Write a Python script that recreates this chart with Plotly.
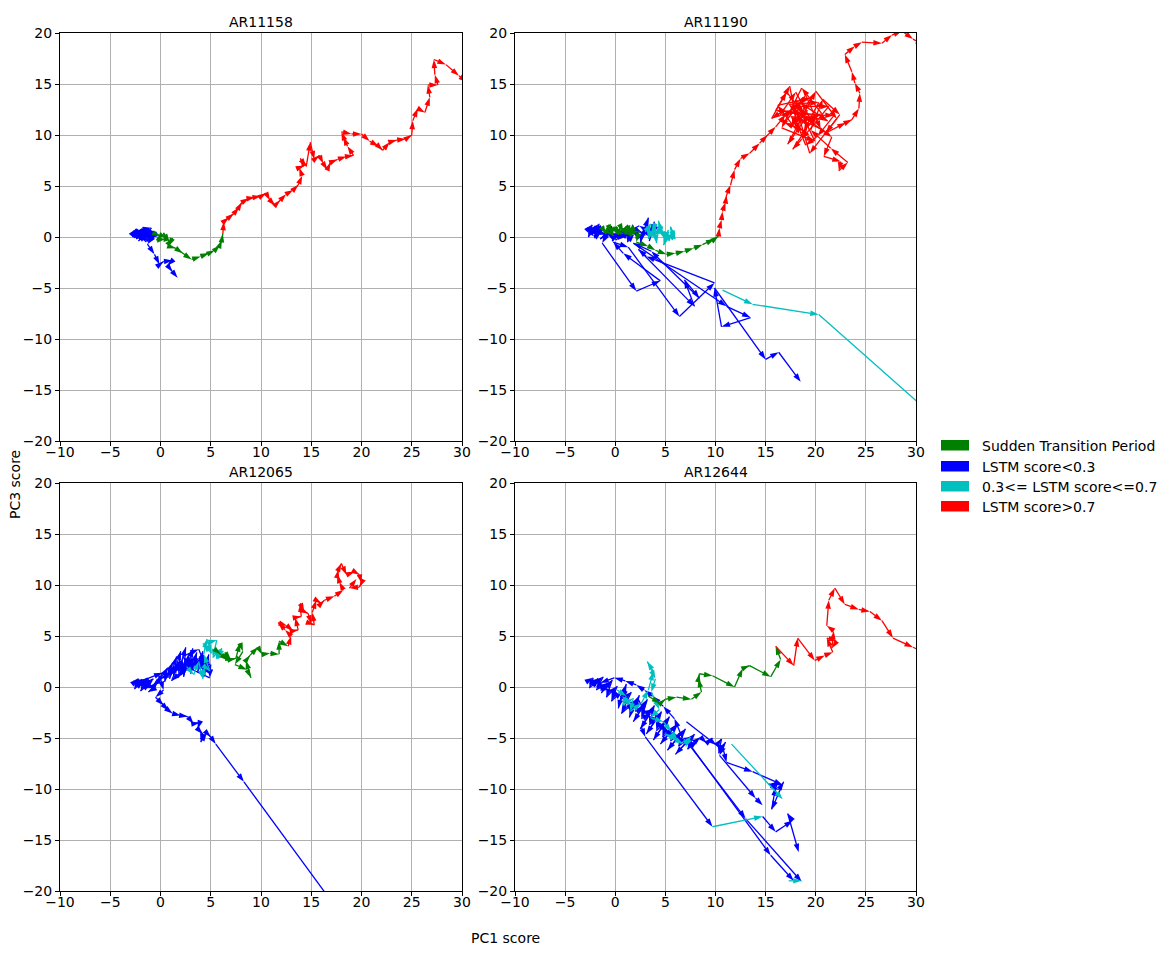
import plotly.graph_objects as go

# panel titles, ticks, legend
titles = ["AR11158", "AR11190", "AR12065", "AR12644"]
x_ticks = [-10, -5, 0, 5, 10, 15, 20, 25, 30]
y_ticks = [-20, -15, -10, -5, 0, 5, 10, 15, 20]
legend_labels = ["Sudden Transition Period", "LSTM score<0.3",
                 "0.3<= LSTM score<=0.7", "LSTM score>0.7"]
legend_colors = ["#008000", "#0000ff", "#00bfbf", "#ff0000"]

# ── AR11158 ──────────────────────────────────
p1_blue_x = [-2.6, -2.1, -2.8, -1.8, -2.4, -1.5, -2.2, -1.2, -2.7, -1.7, -1.0, -2.3, -0.8, -1.6,
             -2.9, -2.4, -2.0, -2.7, -1.6, -2.2, -1.1, -2.6, -1.8, -0.7, -1.4, -2.3, -0.4, -1.0,
             -2.0, -0.9, -1.5, -0.3, -2.8, -1.2,
             -2.5, -1.3, -0.6, -1.3, -0.6, -0.1, 0.3, 1.2, 0.7, 1.2, 1.7, None,
             -1.9, -1.1, -2.0, -1.4, -0.9, -1.7, -0.5]
p1_blue_y = [0.3, 0.6, 0.0, 0.5, -0.2, 0.7, 0.2, 0.4, 0.5, -0.1, 0.6, 0.1, 0.3, 0.8,
             0.2, 0.8, -0.3, 0.6, 0.2, -0.4, 0.8, -0.1, 0.9, 0.1, -0.5, 0.3, 0.5, -0.2,
             0.7, 0.9, 0.0, 0.1, 0.5, -0.4,
             0.4, -0.3, 0.2, -0.7, -1.7, -2.7, -2.4, -2.3, -2.8, -3.4, -4.0, None,
             0.1, 0.5, -0.2, 0.6, 0.0, 0.4, 0.3]
p1_green_x = [-0.5, 0.0, -0.4, 0.5, 0.3, 0.9, 1.2, 0.8, 1.5, 2.2, 3.1, 4.0, 4.8, 5.4, 5.9, 6.1, 6.2]
p1_green_y = [0.3, 0.1, -0.3, -0.2, 0.4, -0.5, -0.1, -0.9, -1.1, -1.6, -2.2, -1.9, -1.6, -1.3, -0.8, -0.3, 0.3]
p1_red_x = [6.2, 6.3, 6.8, 7.3, 7.8, 8.1, 8.8, 9.4, 10.0, 10.5, 10.9, 11.4, 11.9, 12.5, 13.2, 13.7,
            14.1, 13.8, 14.3, 13.9, 14.5, 14.9, 15.3, 15.8, 16.2, 16.6, 16.9, 17.6, 18.5, 19.2,
            18.6, 18.2, 18.0, 19.0, 20.0, 20.8, 21.7, 22.1, 22.8, 23.5, 24.4, 25.0, 25.1, 25.6,
            26.3, 26.8, 26.6, 27.6, 27.3, 27.2, 28.4, 29.7, 30.5]
p1_red_y = [0.3, 1.5, 1.9, 2.3, 2.9, 3.4, 3.8, 3.9, 4.0, 4.3, 3.6, 3.1, 3.6, 4.2, 4.6, 5.1,
            6.0, 6.8, 7.0, 7.7, 6.9, 9.3, 7.6, 8.0, 7.2, 6.6, 7.3, 7.6, 7.9, 8.0,
            8.9, 9.8, 10.3, 10.1, 10.1, 9.4, 8.9, 8.5, 9.3, 9.5, 9.6, 10.0, 11.4, 12.6,
            12.2, 13.7, 14.9, 14.9, 15.9, 17.4, 16.9, 15.8, 15.2]

# ── AR11190 ──────────────────────────────────
p2_blue_x = [-2.9, -2.3, -2.7, -1.9, -2.5, -1.6, -2.1, -1.4, -2.8, -1.8, -1.1, -2.2, -0.9, -1.5,
             -0.4, -1.0, 0.1, -0.3, 0.6, 0.3, 1.0, 0.8, 1.4, 1.2, 1.9, 1.7, 2.3, 2.1, 2.7, 2.5,
             3.0, 3.3, 3.1, 3.6, 3.4, 3.9, 3.7, 4.2, 3.2, 2.4, 1.1, 0.2, -0.8,
             -1.3, 2.1, 4.5, 0.8, -0.2, 1.3, 6.4, 9.9, 3.1, 2.3, 7.9, 6.9, 8.4, 3.6, 1.8,
             11.1, 13.5, 10.6, 9.9, 15.0, 16.3, 18.5]
p2_blue_y = [0.6, 1.2, 0.0, 0.9, 0.4, 1.3, -0.1, 0.5, 0.9, 0.2, 1.0, 0.7, 0.2, -0.2,
             0.8, 0.5, 0.2, -0.4, 0.6, -0.2, 0.9, 0.0, 0.6, -0.5, 0.3, 1.2, -0.2, 0.7, 0.4, -0.6,
             1.0, 1.9, 0.2, 0.9, -0.4, 1.5, 0.4, 1.0, 0.6, 1.1, 0.4, -0.3, 0.3,
             -0.6, -5.3, -4.3, -1.6, -0.5, -1.0, -7.8, -4.5, -1.9, -1.2, -6.8, -4.2, -6.0, -1.4, -0.6,
             -6.8, -7.9, -8.8, -5.0, -12.0, -11.3, -14.2]
p2_green_x = [-1.3, -0.9, -0.7, -0.4, -0.1, 0.3, 0.5, 0.8, 1.2, 1.5, 1.8, 1.2, 0.4, -0.6, 0.9,
              2.4, 2.1, 3.3, 4.0, 5.1, 6.0, 6.9, 7.8, 8.7, 9.9, 10.3]
p2_green_y = [0.9, 0.3, 1.2, 0.4, 1.0, 0.2, 1.1, 0.5, 1.2, 0.3, 0.9, 0.5, 0.7, 0.8, 0.3,
              0.6, -0.5, -0.9, -1.3, -1.7, -1.6, -1.4, -1.1, -0.75, -0.2, 0.1]
p2_cyan_x = [3.0, 3.5, 3.3, 3.9, 4.1, 4.4, 4.7, 4.3, 5.0, 5.3, 4.8, 5.7, 5.5, 6.0, 5.1, 4.5,
             3.8, 4.0, 3.6, None, 10.7, 13.7, 20.3, 31.0]
p2_cyan_y = [0.5, 1.3, -0.2, 0.8, -0.6, 1.2, 0.2, 1.6, -0.3, 0.7, -0.8, 0.4, 1.0, -0.2, 0.3, 0.6,
             0.2, 1.3, 0.6, None, -5.2, -6.6, -7.6, -16.9]
p2_red_x = [10.3, 10.4, 10.6, 10.7, 11.0, 11.1, 11.5, 11.9, 12.5, 13.4, 14.4, 15.2, 16.0,
            17.0, 18.5, 17.6, 19.2, 16.4, 18.0, 19.8, 17.3, 20.3, 18.8, 16.9, 19.0, 20.5, 18.3,
            17.8, 19.6, 21.3, 18.6, 17.7, 19.2, 20.1, 16.0, 17.1, 18.9, 21.8, 20.2, 19.0, 18.1,
            17.5, 19.7,
            16.8, 15.6, 17.4, 18.3, 16.2, 19.5, 17.9, 20.6, 18.6, 16.6, 19.9, 18.0, 21.2, 19.1,
            17.2, 20.0, 22.1, 19.4, 18.2, 21.6, 20.8, 22.5, 22.3, 23.2, 21.5, 19.5, 20.7, 22.4,
            21.0, 23.0, 23.6, 24.3, 24.4, 23.9, 23.6, 22.9, 23.9, 24.6, 26.6, 27.6, 28.6, 29.7, 30.8]
p2_red_y = [0.1, 0.9, 1.7, 2.5, 3.4, 4.1, 5.1, 6.6, 7.7, 8.2, 9.2, 10.0, 10.8,
            12.0, 13.2, 10.9, 12.4, 11.9, 14.2, 11.0, 13.0, 13.2, 10.4, 11.2, 13.9, 10.6, 11.6,
            12.8, 12.8, 12.8, 9.6, 8.6, 10.8, 12.0, 12.4, 14.2, 12.0, 11.9, 9.9, 9.0, 11.2,
            11.8, 11.6,
            12.4, 11.6, 14.8, 10.2, 12.9, 13.6, 11.0, 12.1, 14.6, 10.7, 9.4, 13.4, 11.4, 11.8,
            9.1, 14.3, 11.6, 8.2, 12.2, 9.8, 7.9, 7.4, 6.5, 7.3, 8.7, 10.5, 13.5, 12.0,
            10.2, 11.2, 11.5, 12.6, 14.1, 15.1, 16.2, 17.9, 18.7, 19.1, 19.0, 19.8, 20.2, 19.4, 18.8]

# ── AR12065 ──────────────────────────────────
p3_blue_x = [-2.8, -2.2, -2.6, -1.7, -2.4, -1.3, -2.0, -1.0, -2.7, -1.5, -0.7, -1.9, -0.5, -1.2,
             -0.2, -0.8, -2.3, -1.6,
             0.2, -0.3, 0.7, 0.4, 1.2, 0.9, 1.6, 1.3, 2.0, 1.8, 2.5, 2.3, 2.8, 2.6, 3.2, 3.0,
             3.6, 3.4, 3.9, 3.7, 4.2, 4.0, 4.5, 4.3, 4.8, 4.6, 5.0, 4.9, 2.1, 1.0, 1.5, 0.5,
             2.8, 3.5, 1.1, 1.9, 2.4, 1.7, 2.9, 3.3, 2.2, 3.8, 4.4, 3.1, 1.4, 0.8, 0.0, 0.3,
             -0.5, 0.3, 0.8, 1.2, 2.0, 2.7, 3.3, 3.9, 3.7, 4.2, 4.0, 4.6, 5.0, 5.5, 8.3, 17.0]
p3_blue_y = [0.3, 0.8, -0.2, 0.6, 0.1, 0.9, -0.4, 0.4, 0.6, 0.0, 0.8, 0.3, -0.1, -0.5,
             0.6, 0.1, 0.5, 0.7,
             1.4, 0.3, 1.9, 0.5, 2.4, 0.8, 3.0, 1.1, 3.5, 1.4, 3.9, 1.0, 3.2, 1.6, 3.8, 1.3,
             3.4, 2.0, 2.8, 1.4, 3.5, 1.8, 2.6, 1.0, 3.2, 1.5, 2.2, 0.9, 2.2, 1.5, 2.0, 1.0,
             2.4, 2.9, 0.6, 2.6, 1.8, 0.9, 2.9, 1.7, 3.0, 3.7, 2.3, 2.2, 1.6, 1.2, 0.8, -0.3,
             -1.0, -1.8, -2.3, -2.6, -2.8, -2.9, -3.6, -3.5, -4.1, -4.6, -5.4, -4.5, -4.9, -5.6, -9.3, -21.0]
p3_cyan_x = [2.6, 3.3, 3.8, 4.2, 4.4, 4.9, 4.3, 4.6, 5.1, 4.2, 5.6, 5.2, 6.1, 5.8, 5.5]
p3_cyan_y = [2.0, 1.2, 2.5, 0.8, 2.0, 1.6, 3.2, 4.7, 3.3, 4.2, 4.6, 2.9, 3.8, 2.8, 3.6]
p3_green_x = [5.5, 6.0, 6.7, 6.4, 7.0, 7.5, 7.9, 8.2, 7.4, 8.6, 9.0, 8.5, 8.9, 9.7, 10.1,
              10.9, 11.8, 11.8, 12.7]
p3_green_y = [3.6, 3.2, 2.6, 3.4, 2.7, 2.8, 4.3, 3.5, 2.2, 1.7, 0.9, 2.6, 3.1, 3.9, 3.2,
              3.3, 3.2, 4.5, 4.0]
p3_red_x = [12.7, 13.0, 12.4, 11.7, 12.6, 13.2, 13.7, 13.4, 14.0, 13.9, 14.3, 14.7, 15.0, 15.3,
            15.1, 15.5, 16.0, 16.3, 17.3, 18.2, 17.8, 17.6, 17.7, 18.0, 18.5, 19.3, 19.8, 20.0,
            19.8, 18.8, 19.5]
p3_red_y = [4.0, 5.0, 5.6, 6.3, 6.0, 5.5, 5.6, 6.8, 6.9, 8.2, 7.4, 7.2, 6.2, 6.1,
            7.3, 8.5, 8.2, 8.5, 8.9, 9.5, 10.3, 11.0, 11.5, 12.1, 11.0, 11.3, 11.0, 10.2,
            9.8, 9.7, 10.6]

# ── AR12644 ──────────────────────────────────
p4_blue_x = [-2.9, -2.2, -2.6, -1.6, -2.3, -1.2, -1.9, -0.8, -1.4, -0.3, -0.9, 0.2, -0.4, 0.7,
             0.3, 1.1, 0.8, 1.6, 0.6, 1.9, 1.4, 2.4, 2.0, 2.8, 1.8, 3.2, 2.6, 3.5, 2.5, 3.9,
             3.4, 4.2, 3.1, 4.6, 4.1, 5.0, 3.8, 5.4, 4.7, 5.8, 4.5, 6.2, 5.5, 6.6, 5.2, 7.0,
             6.3, 7.5, 6.0, 7.9, 7.2, 8.2, 6.7, 5.9, 4.8, 3.7, 2.9, 2.1, 1.0, -0.1, -1.5,
             -2.6, -1.8, -0.6, 0.5, 1.5, 2.3, 3.0, 3.8, 4.4, 5.3, 6.1, 6.9, 7.7, 8.5, 9.1, 9.7, None,
             2.6, 3.0, 9.7, None,
             14.7, 16.0, 17.7, 17.2, 18.3, None,
             7.4, 13.0, 18.6, None,
             7.7, 15.5, 17.8, None,
             7.1, 10.1, 10.6, 10.3, 11.0, 10.4, 14.0, 14.7, None,
             10.8, 11.1, 13.7, 16.7, 15.3, 16.3, 16.8, 15.6, 16.0]
p4_blue_y = [0.5, 0.9, -0.1, 0.7, 0.2, 1.0, -0.3, 0.4, -0.6, 0.7, -1.0, 0.1, -1.4, -0.4,
             -2.1, 0.3, -1.2, -0.5, -2.6, -1.5, -3.0, -0.8, -2.4, -1.9, -3.4, -1.2, -3.1, -2.6, -4.1, -1.8,
             -3.7, -3.0, -4.6, -2.4, -4.3, -3.4, -5.2, -2.9, -4.9, -4.0, -5.6, -3.6, -5.3, -4.5, -6.2, -4.1,
             -5.8, -5.0, -6.6, -4.6, -6.1, -5.3, -5.0, -3.1, -1.9, -0.9, -0.3, 0.2, 0.6, 0.9, 0.4,
             0.7, 0.0, -0.3, -0.9, -1.8, -1.2, -2.6, -2.2, -3.7, -4.4, -4.9, -5.4, -5.6, -4.9, -5.5, -5.0, None,
             -3.9, -4.9, -13.7, None,
             -12.7, -14.2, -13.1, -12.4, -16.2, None,
             -5.7, -12.9, -19.1, None,
             -6.0, -16.5, -19.0, None,
             -3.4, -5.7, -5.1, -6.5, -5.4, -6.7, -10.9, -11.6, None,
             -6.2, -7.4, -8.3, -9.6, -9.5, -10.1, -9.3, -12.0, -9.8]
p4_cyan_x = [0.2, 1.1, 0.7, 1.8, 1.5, 2.6, 3.3, 3.8, 3.2, 4.0, 3.6, 4.4, 3.5, 4.8, 5.6, 6.2, 5.0,
             6.8, 7.5, 7.0, None, 11.6, 16.7, None, 9.7, 14.7, None, 17.3, 18.6]
p4_cyan_y = [-0.3, -0.9, -1.8, -1.1, -2.4, -1.6, -0.3, 1.5, 2.5, 0.8, -0.5, -2.2, -3.0, -3.4, -4.4, -5.2, -4.6,
             -5.6, -4.9, -5.9, None, -5.6, -11.0, None, -13.7, -12.7, None, -19.0, -19.0]
p4_green_x = [3.3, 4.5, 5.0, 6.1, 7.6, 8.6, 8.3, 8.4, 9.7, 11.9, 12.7, 13.4, 15.5, 16.5, 16.0]
p4_green_y = [-0.9, -1.6, -1.2, -1.0, -1.2, -0.5, 0.8, 1.3, 1.1, 0.0, 1.8, 2.1, 1.0, 2.7, 4.0]
p4_red_x = [16.0, 17.8, 18.2, 19.9, 20.9, 21.7, 21.1, 22.1, 21.6, 21.8, 21.1, 21.3, 21.9, 22.9,
            24.3, 25.4, 26.6, 27.7, 29.7, 31.0]
p4_red_y = [4.0, 2.1, 4.8, 2.6, 3.1, 3.4, 4.8, 4.5, 3.8, 5.5, 6.0, 8.5, 9.7, 8.1,
            7.6, 7.4, 6.5, 4.8, 3.9, 3.3]

panels = [
    [(p1_blue_x, p1_blue_y, "#0000ff"), (p1_green_x, p1_green_y, "#008000"),
     (p1_red_x, p1_red_y, "#ff0000")],
    [(p2_blue_x, p2_blue_y, "#0000ff"), (p2_green_x, p2_green_y, "#008000"),
     (p2_cyan_x, p2_cyan_y, "#00bfbf"), (p2_red_x, p2_red_y, "#ff0000")],
    [(p3_blue_x, p3_blue_y, "#0000ff"), (p3_cyan_x, p3_cyan_y, "#00bfbf"),
     (p3_green_x, p3_green_y, "#008000"), (p3_red_x, p3_red_y, "#ff0000")],
    [(p4_blue_x, p4_blue_y, "#0000ff"), (p4_cyan_x, p4_cyan_y, "#00bfbf"),
     (p4_green_x, p4_green_y, "#008000"), (p4_red_x, p4_red_y, "#ff0000")],
]

# the page puts the figure 8px in from the corner, so work in window pixels
OFF = 8
W, H = 1169 - OFF, 954 - OFF
def px(v): return (v - OFF) / W
def py(v): return 1 - (v - OFF) / H

# panel boxes in window pixels (left, right, top, bottom)
boxes = [(60, 462, 33, 441), (515, 916, 33, 441), (60, 462, 483, 891), (515, 916, 483, 891)]

FONT = "DejaVu Sans"
fig = go.Figure()

for i, series in enumerate(panels):
    ax = "" if i == 0 else str(i + 1)
    for xs, ys, col in series:
        fig.add_trace(go.Scatter(
            x=xs, y=ys, xaxis="x" + ax, yaxis="y" + ax,
            mode="lines+markers",
            line=dict(color=col, width=1.3),
            marker=dict(symbol="arrow", angleref="previous", size=9, color=col,
                        line=dict(width=0)),
            showlegend=False, hoverinfo="skip"))

axis_common = dict(showgrid=True, gridcolor="#b0b0b0", gridwidth=0.8, zeroline=False,
                   showline=True, linecolor="black", linewidth=1, mirror=True,
                   ticks="outside", ticklen=4, tickwidth=0.8, tickcolor="black",
                   automargin=False,
                   tickfont=dict(family=FONT, size=14, color="black"))

annotations = []
shapes = []
for i, (l, r, t, b) in enumerate(boxes):
    ax = "" if i == 0 else str(i + 1)
    fig.layout["xaxis" + ax] = dict(
        domain=[px(l), px(r)], anchor="y" + ax, range=[-10, 30],
        tickvals=x_ticks, ticktext=[str(v).replace("-", "\u2212") for v in x_ticks],
        ticklabelstandoff=-6, **axis_common)
    fig.layout["yaxis" + ax] = dict(
        domain=[py(b), py(t)], anchor="x" + ax, range=[-20, 20],
        tickvals=y_ticks, ticktext=[str(v).replace("-", "\u2212") for v in y_ticks],
        **axis_common)
    # title centred over its own panel
    annotations.append(dict(x=0.5, y=1 + 11 / (b - t), xref="x" + ax + " domain",
                            yref="y" + ax + " domain",
                            text=titles[i], showarrow=False,
                            xanchor="center", yanchor="middle",
                            font=dict(family=FONT, size=14, color="black")))

# axis labels
annotations.append(dict(x=px(505), y=py(938), xref="paper", yref="paper", text="PC1 score",
                        showarrow=False, xanchor="center", yanchor="middle",
                        font=dict(family=FONT, size=14, color="black")))
annotations.append(dict(x=px(15), y=py(485), xref="paper", yref="paper", text="PC3 score",
                        showarrow=False, textangle=-90, xanchor="center", yanchor="middle",
                        font=dict(family=FONT, size=14, color="black")))

# legend drawn as patches + text
row_tops = [440, 461, 481, 501]
for lab, col, top in zip(legend_labels, legend_colors, row_tops):
    shapes.append(dict(type="rect", xref="paper", yref="paper",
                       x0=px(941), x1=px(969), y0=py(top + 10.5), y1=py(top),
                       fillcolor=col, line=dict(width=0)))
    annotations.append(dict(x=px(980), y=py(top + 5.5), xref="paper", yref="paper",
                            text=lab, showarrow=False, xanchor="left", yanchor="middle",
                            font=dict(family=FONT, size=14, color="black")))

fig.update_layout(
    width=W, height=H,
    margin=dict(l=0, r=0, t=0, b=0, autoexpand=False),
    paper_bgcolor="white", plot_bgcolor="white",
    annotations=annotations, shapes=shapes,
    showlegend=False,
)

fig.write_html("out.html")
